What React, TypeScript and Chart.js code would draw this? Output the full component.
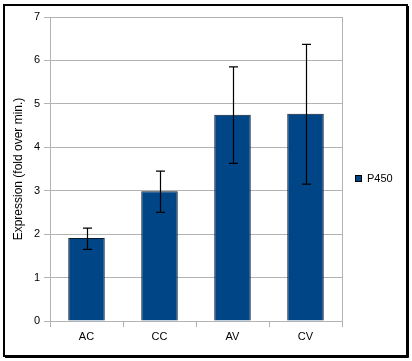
import React, { useEffect, useRef } from "react";
import { Chart, registerables } from "chart.js";

Chart.register(...registerables);

const categories = ["AC", "CC", "AV", "CV"];
const seriesLabel = "P450";
const values = [1.91, 2.99, 4.75, 4.77];
const errorHigh = [2.14, 3.45, 5.85, 6.37];
const errorLow = [1.65, 2.5, 3.63, 3.15];
const yTicks = [0, 1, 2, 3, 4, 5, 6, 7];
const yTitle = "Expression (fold over min.)";

const FONT = "'Liberation Sans', Arial, sans-serif";
const BAR_COLOR = "#004586";
const GRID = "#b3b3b3";

const framePlugin = {
  id: "frame",
  beforeDraw(chart: any) {
    const ctx = chart.ctx;
    ctx.save();
    ctx.fillStyle = "#ffffff";
    ctx.fillRect(0, 0, chart.width, chart.height);
    ctx.restore();
  },
  afterDraw(chart: any) {
    const ctx = chart.ctx;
    const { chartArea } = chart;
    ctx.save();
    // plot area right border
    ctx.strokeStyle = GRID;
    ctx.lineWidth = 1;
    ctx.beginPath();
    ctx.moveTo(Math.round(chartArea.right) + 0.5, chartArea.top);
    ctx.lineTo(Math.round(chartArea.right) + 0.5, chartArea.bottom);
    ctx.stroke();
    // outer frame
    ctx.strokeStyle = "#000";
    ctx.lineWidth = 2;
    ctx.strokeRect(4, 5, 403, 351);
    ctx.lineWidth = 1;
    ctx.beginPath();
    ctx.moveTo(408.5, 6);
    ctx.lineTo(408.5, 357.5);
    ctx.moveTo(5, 357.5);
    ctx.lineTo(408.5, 357.5);
    ctx.stroke();
    // legend
    const ds = chart.data.datasets[0];
    ctx.fillStyle = BAR_COLOR;
    ctx.fillRect(355, 175, 7, 7);
    ctx.strokeStyle = "#000";
    ctx.lineWidth = 1;
    ctx.strokeRect(355.5, 175.5, 6, 6);
    ctx.fillStyle = "#000";
    ctx.font = `11px ${FONT}`;
    ctx.textAlign = "left";
    ctx.textBaseline = "middle";
    ctx.fillText(ds.label, 367, 179);
    ctx.restore();
  },
};

const errorBarPlugin = {
  id: "errorBars",
  afterDatasetsDraw(chart: any) {
    const ctx = chart.ctx;
    const meta = chart.getDatasetMeta(0);
    const yScale = chart.scales.y;
    ctx.save();
    ctx.strokeStyle = "#000";
    ctx.lineWidth = 1.2;
    meta.data.forEach((bar: any, i: number) => {
      const x = Math.round(bar.x) + 0.5;
      const yHi = yScale.getPixelForValue(errorHigh[i]);
      const yLo = yScale.getPixelForValue(errorLow[i]);
      const cap = 4.5;
      ctx.beginPath();
      ctx.moveTo(x, yHi);
      ctx.lineTo(x, yLo);
      ctx.moveTo(x - cap, yHi);
      ctx.lineTo(x + cap, yHi);
      ctx.moveTo(x - cap, yLo);
      ctx.lineTo(x + cap, yLo);
      ctx.stroke();
    });
    ctx.restore();
  },
};

export default function App() {
  const ref = useRef<HTMLCanvasElement | null>(null);

  useEffect(() => {
    if (!ref.current) return;
    const chart = new Chart(ref.current, {
      type: "bar",
      data: {
        labels: categories,
        datasets: [
          {
            label: seriesLabel,
            data: values,
            backgroundColor: BAR_COLOR,
            borderColor: "#0a1a2a",
            borderWidth: 1,
            categoryPercentage: 1,
            barPercentage: 0.5,
          },
        ],
      },
      options: {
        animation: false,
        responsive: false,
        maintainAspectRatio: false,
        devicePixelRatio: 1,
        layout: { padding: { top: 17, right: 70, left: 0, bottom: 0 } },
        plugins: {
          legend: { display: false },
          tooltip: { enabled: false },
        },
        scales: {
          x: {
            afterFit: (s: any) => {
              s.height = 40;
            },
            grid: {
              display: true,
              offset: true,
              drawOnChartArea: false,
              drawTicks: true,
              tickLength: 6,
              color: GRID,
            },
            border: { display: true, color: GRID },
            ticks: {
              color: "#000",
              font: { family: FONT, size: 11 },
              padding: 3,
            },
          },
          y: {
            min: 0,
            max: 7,
            afterFit: (s: any) => {
              s.width = 50;
            },
            afterBuildTicks: (s: any) => {
              s.ticks = yTicks.map((v) => ({ value: v }));
            },
            grid: {
              color: GRID,
              tickLength: 6,
              drawTicks: true,
            },
            border: { display: true, color: GRID },
            ticks: {
              color: "#000",
              font: { family: FONT, size: 11 },
              padding: 4,
            },
            title: {
              display: true,
              text: yTitle,
              color: "#000",
              font: { family: FONT, size: 12 },
              padding: { top: 11, bottom: 0 },
            },
          },
        },
      },
      plugins: [framePlugin, errorBarPlugin],
    });
    return () => chart.destroy();
  }, []);

  return (
    <div style={{ position: "fixed", left: 0, top: 0, width: 412, height: 361 }}>
      <canvas ref={ref} width={412} height={361} style={{ display: "block", width: 412, height: 361 }} />
    </div>
  );
}
